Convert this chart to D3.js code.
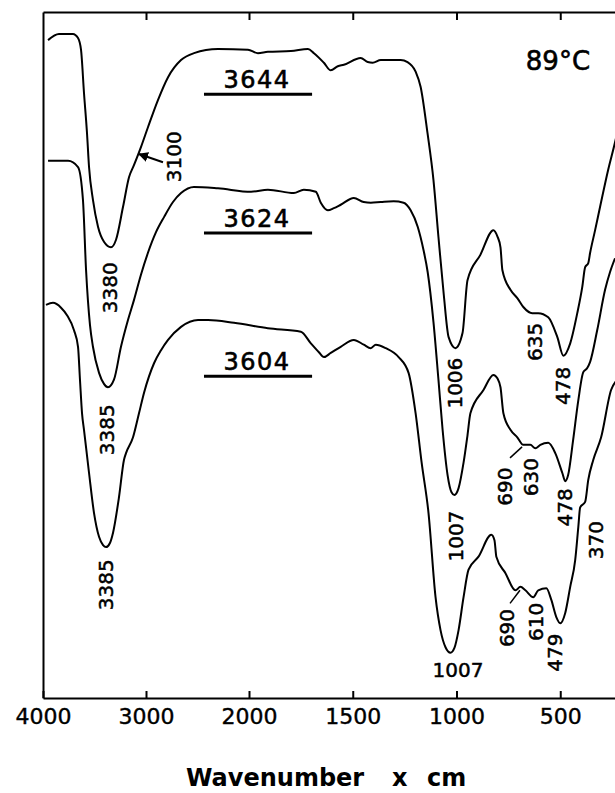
<!DOCTYPE html>
<meta charset="utf-8">
<head>
  <title>IR spectra 89C</title>
</head>

<style>
body { margin: 0; background: white; }
text {
  font-family: "DejaVu Sans", sans-serif;
  fill: black;
}
.curve {
  fill: none;
  stroke: black;
  stroke-width: 2px;
  stroke-linejoin: round;
}
.axis path, .axis line {
  stroke: black;
  stroke-width: 2px;
}
.axis text {
  font-size: 22px;
  stroke: black;
  stroke-width: 0.4px;
}
.peak { font-size: 20px; stroke: black; stroke-width: 0.5px; }
.sample { font-size: 24px; letter-spacing: 1.5px; stroke: black; stroke-width: 0.6px; }
</style>

<body>
  <svg width="615" height="793"></svg>

  <script src="https://cdnjs.cloudflare.com/ajax/libs/d3/7.8.5/d3.min.js"></script>
  <script>
// spectrum 3644 (top)
var wn3644 = [3951,3845,3709,3660,3631,3602,3573,3553,3515,3466,3408,3340,3291,3223,3165,3116,3049,2981,2883,2786,2660,2534,2301,2010,1957,1909,1798,1716,1687,1639,1606,1572,1543,1462,1428,1404,1365,1269,1236,1197,1173,1140,1111,1087,1062,1038,1005,971,947,885,822,803,788,779,740,707,678,635,606,558,514,485,452,418,394,380,365,356,332,308,269,236,212];
var t3644 = [95.9,96.8,96.8,96.2,94.5,88.2,82.4,77.4,72.6,68.7,66.5,65.7,66.8,71.6,75.9,77.7,80.3,83.2,87.2,90.5,93.0,94.0,94.6,94.5,94.0,94.2,94.3,94.6,94.0,92.6,91.5,92.1,92.3,93.3,92.7,92.6,93.0,93.0,92.7,91.3,89.1,82.4,75.5,67.2,59.0,52.6,51.0,53.2,60.9,64.6,68.2,67.3,65.7,62.4,59.5,58.3,57.0,56.1,56.1,55.5,52.6,49.9,51.7,56.1,59.9,62.8,63.4,64.9,68.2,71.6,77.0,81.0,84.3];

// spectrum 3624 (middle)
var wn3624 = [3951,3757,3660,3612,3582,3544,3515,3456,3408,3369,3311,3243,3175,3117,3049,2981,2903,2825,2738,2660,2534,2301,1990,1909,1784,1736,1678,1654,1620,1591,1558,1495,1447,1413,1365,1303,1255,1221,1187,1159,1139,1111,1087,1067,1043,1024,1010,990,966,947,933,870,822,803,788,774,740,707,678,644,620,596,558,524,490,476,462,438,413,389,370,356,322,284,260,236];
var t3624 = [78.3,78.3,77.4,72.6,62.4,54.4,51.2,47.4,45.8,45.3,46.4,51.2,55.1,58.0,61.7,64.9,67.9,70.1,72.3,73.6,74.5,74.3,73.8,74.1,73.6,74.1,73.8,72.2,71.1,71.4,71.9,72.9,72.3,72.2,72.3,72.4,72.2,71.1,68.7,65.3,62.1,54.8,46.4,39.1,32.5,30.0,29.6,30.6,34.3,38.3,41.5,44.9,47.1,46.6,45.3,41.5,39.1,38.0,36.9,36.9,36.4,36.9,37.2,35.7,32.8,31.6,32.5,37.6,43.4,47.5,48.1,49.0,53.6,59.5,62.1,64.1];

// spectrum 3604 (bottom)
var wn3604 = [3971,3903,3825,3767,3699,3660,3641,3621,3602,3553,3505,3456,3417,3388,3350,3320,3262,3214,3194,3126,3068,3019,2922,2854,2786,2660,2495,2398,2146,1909,1750,1702,1663,1639,1606,1558,1495,1447,1413,1389,1341,1279,1231,1197,1168,1135,1101,1077,1053,1029,1010,990,966,942,894,832,817,808,764,716,692,668,630,606,567,543,519,500,476,452,428,413,404,380,365,341,303,255,226];
var t3604 = [57.3,57.6,56.9,55.8,53.6,51.2,46.4,41.5,39.1,32.8,27.0,23.5,22.3,22.0,22.6,24.1,29.3,34.7,35.7,38.0,41.5,44.5,48.8,50.7,52.2,54.1,55.1,55.1,54.7,53.9,53.4,51.7,50.4,49.7,50.3,51.2,52.2,51.5,51.0,51.5,51.0,49.7,47.4,41.5,34.3,27.0,14.7,9.9,7.4,6.6,7.3,9.9,14.7,18.7,20.6,23.8,23.0,20.6,18.2,15.7,16.2,15.7,14.7,15.7,16.0,14.3,11.8,10.9,12.4,16.2,20.1,24.9,27.8,28.6,31.8,34.7,38.0,44.9,46.4];

var sampleNames = ["3644", "3624", "3604"];
var sampleLabelT = [88.9, 68.7, 47.8];
var sampleLineT = [88.0, 67.8, 46.9];

var peakLabels = ["3100","3380","3385","3385","1006","1007","1007","635","478","690","630","478","370","690","610","479"];
var peakWn = [2728,3350,3379,3388,1007,1002,993,622,487,766,641,477,328,757,617,525];
var peakT = [78.9,59.8,39.1,16.5,45.9,23.6,3.1,51.9,45.5,30.8,32.2,27.8,23.0,10.2,11.1,6.6];
var peakRotated = [true,true,true,true,true,true,false,true,true,true,true,true,true,true,true,true];

var xTicks = [4000, 3000, 2000, 1500, 1000, 500];

var svg = d3.select('svg');

// grating change at 2000: scale doubles below it
var x = d3.scaleLinear().domain([4000, 2000, 0]).range([43, 249, 664]);
var y = d3.scaleLinear().domain([0, 100]).range([698, 12]);

var line = d3.line()
  .x(function(d) { return x(d[0]); })
  .y(function(d) { return y(d[1]); })
  .curve(d3.curveMonotoneX);

var spectra = [[wn3644, t3644], [wn3624, t3624], [wn3604, t3604]];

svg.selectAll('path.curve')
  .data(spectra)
  .enter()
  .append('path')
  .attr('class', 'curve')
  .attr('d', function(s) { return line(d3.zip(s[0], s[1])); });

// axes
svg.append('g')
  .attr('class', 'axis')
  .attr('transform', 'translate(0,' + y(0) + ')')
  .call(d3.axisBottom(x).tickValues(xTicks).tickFormat(d3.format('d'))
    .tickSize(-7).tickSizeOuter(0).tickPadding(10));

svg.append('g')
  .attr('class', 'axis')
  .attr('transform', 'translate(0,' + y(100) + ')')
  .call(d3.axisTop(x).tickValues(xTicks.slice(1)).tickSize(-8).tickSizeOuter(0).tickFormat(''));

svg.append('g')
  .attr('class', 'axis')
  .attr('transform', 'translate(' + x(4000) + ',0)')
  .call(d3.axisLeft(y).tickValues([]).tickSizeOuter(0));

svg.selectAll('.axis text').attr('font-family', '"DejaVu Sans", sans-serif').attr('fill', 'black');

// sample labels with underline
svg.selectAll('text.sample')
  .data(sampleNames)
  .enter()
  .append('text')
  .attr('class', 'sample')
  .attr('x', x(1961))
  .attr('y', function(d, i) { return y(sampleLabelT[i]); })
  .attr('text-anchor', 'middle')
  .text(function(d) { return d; });

svg.selectAll('line.under')
  .data(sampleLineT)
  .enter()
  .append('line')
  .attr('x1', x(2437))
  .attr('x2', x(1696))
  .attr('y1', function(d) { return y(d); })
  .attr('y2', function(d) { return y(d); })
  .attr('stroke', 'black')
  .attr('stroke-width', 3);

// peak labels
svg.selectAll('text.peak')
  .data(peakLabels)
  .enter()
  .append('text')
  .attr('class', 'peak')
  .attr('text-anchor', 'middle')
  .attr('dominant-baseline', function(d, i) { return peakRotated[i] ? 'central' : 'auto'; })
  .attr('transform', function(d, i) {
    var t = 'translate(' + x(peakWn[i]) + ',' + y(peakT[i]) + ')';
    return peakRotated[i] ? t + ' rotate(-90)' : t;
  })
  .text(function(d) { return d; });

// arrow to the 3100 shoulder
svg.append('defs').append('marker')
  .attr('id', 'head')
  .attr('viewBox', '0 0 10 10')
  .attr('refX', 9).attr('refY', 5)
  .attr('markerWidth', 5).attr('markerHeight', 5)
  .attr('orient', 'auto')
  .append('path')
  .attr('d', 'M0,0L10,5L0,10z');

svg.append('line')
  .attr('x1', x(2835)).attr('y1', y(78.1))
  .attr('x2', x(3068)).attr('y2', y(79.3))
  .attr('stroke', 'black')
  .attr('stroke-width', 2)
  .attr('marker-end', 'url(#head)');

// leader lines for the 690 labels
var leaders = [[742, 35.0, 684, 36.6], [742, 13.8, 694, 15.7]];
svg.selectAll('line.leader')
  .data(leaders)
  .enter()
  .append('line')
  .attr('x1', function(d) { return x(d[0]); })
  .attr('y1', function(d) { return y(d[1]); })
  .attr('x2', function(d) { return x(d[2]); })
  .attr('y2', function(d) { return y(d[3]); })
  .attr('stroke', 'black')
  .attr('stroke-width', 1.5);

svg.append('text')
  .attr('x', x(511))
  .attr('y', y(91.5))
  .attr('text-anchor', 'middle')
  .style('font-size', '26px')
  .style('stroke', 'black')
  .style('stroke-width', '0.6px')
  .text('89°C');

// axis title
var title = svg.append('text')
  .attr('y', 786)
  .style('font-size', '24px')
  .style('font-weight', 'bold');
title.append('tspan').attr('x', 186).text('Wavenumber');
title.append('tspan').attr('x', 392).text('x');
title.append('tspan').attr('x', 427).text('cm');
  </script>
</body>
</html>
